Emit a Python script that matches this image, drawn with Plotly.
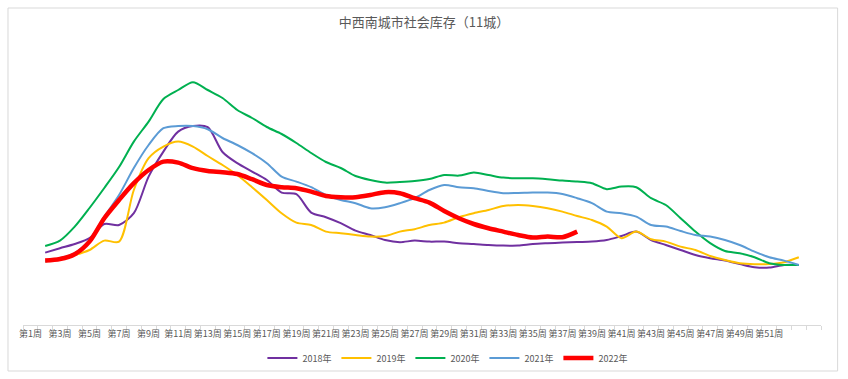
import plotly.graph_objects as go

weeks = list(range(2, 54))
week_labels = [f"第{w}周" for w in range(1, 52, 2)]
label_pos = list(range(1, 52, 2))

s2018 = [36.2, 38.4, 40.5, 43.4, 50.5, 50.0, 55.9, 74.2, 86.7, 96.7, 99.5, 98.9, 86.5, 80.9, 76.7, 72.5,
         66.2, 65.4, 56.2, 53.9, 50.9, 47.2, 45.0, 42.5, 41.4, 42.2, 41.7, 41.7, 40.9, 40.5, 40.0, 39.7,
         39.7, 40.5, 40.9, 41.2, 41.5, 41.7, 42.5, 44.5, 46.7, 42.5, 40.0, 37.5, 35.0, 33.4, 32.2, 30.5,
         28.9, 28.7, 30.0, 30.0]
s2019 = [31.7, 33.4, 35.0, 37.5, 42.2, 41.7, 67.5, 83.4, 89.2, 91.7, 89.2, 84.5, 80.0, 75.0, 68.9, 62.5,
         55.9, 51.2, 50.0, 46.7, 45.9, 45.0, 44.2, 44.5, 46.7, 47.9, 50.0, 51.2, 53.9, 55.9, 57.5, 59.5,
         60.0, 59.5, 58.4, 56.7, 54.5, 52.5, 49.2, 43.4, 46.7, 42.9, 41.7, 39.2, 37.5, 34.5, 32.5, 30.9,
         30.4, 30.5, 31.4, 33.9]
s2020 = [39.5, 42.2, 49.2, 58.5, 68.5, 79.0, 91.7, 101.7, 113.0, 117.5, 121.4, 117.5, 113.5, 107.5, 103.5,
         99.0, 95.5, 91.0, 86.0, 81.5, 78.5, 74.5, 72.5, 71.2, 71.5, 72.0, 73.0, 75.0, 74.7, 76.2, 75.0,
         73.7, 73.4, 73.4, 72.9, 72.2, 71.7, 70.9, 67.9, 69.2, 68.9, 63.4, 60.0, 53.4, 46.7, 40.9, 37.0,
         35.9, 33.9, 30.9, 30.0, 30.0]
s2021 = [31.7, 33.4, 35.9, 42.5, 54.2, 65.0, 78.5, 90.0, 98.4, 99.5, 99.5, 97.9, 93.5, 90.0, 85.9, 80.9,
         74.2, 71.7, 68.9, 65.0, 62.5, 60.9, 58.4, 58.9, 60.9, 63.4, 67.5, 70.0, 68.9, 68.4, 67.0, 65.9,
         66.0, 66.2, 66.2, 65.5, 63.4, 60.9, 56.7, 55.9, 54.2, 50.0, 49.2, 47.0, 45.0, 44.2, 42.5, 40.0,
         36.7, 33.9, 32.2, 30.0]
s2022 = [32.2, 33.0, 35.4, 41.7, 53.4, 62.5, 70.9, 77.5, 81.7, 81.2, 78.4, 77.0, 76.4, 75.5, 72.9, 70.0,
         68.9, 68.4, 66.7, 64.5, 63.9, 63.9, 65.0, 66.4, 65.9, 63.4, 61.2, 57.0, 53.4, 50.5, 48.4, 46.7,
         45.0, 43.7, 44.2, 43.9, 46.7]

series = [
    ("2018年", s2018, "#7030A0", 2),
    ("2019年", s2019, "#FFC000", 2),
    ("2020年", s2020, "#00B050", 2),
    ("2021年", s2021, "#5B9BD5", 2),
    ("2022年", s2022, "#FF0000", 4.5),
]

fig = go.Figure()
for name, vals, color, width in series:
    fig.add_trace(go.Scatter(
        x=weeks[:len(vals)], y=vals, name=name, mode="lines",
        line=dict(color=color, width=width, shape="spline", smoothing=0.8),
    ))

font_family = "Noto Sans CJK SC, Noto Sans, sans-serif"
fig.update_layout(
    width=848, height=379,
    margin=dict(l=23, r=27, t=40, b=54, autoexpand=False),
    paper_bgcolor="white", plot_bgcolor="white",
    font=dict(family=font_family, color="#595959", size=9),
    title=dict(text="中西南城市社会库存（11城）", x=0.5, xanchor="center",
               y=1 - 22 / 379, yanchor="middle",
               font=dict(size=13, color="#595959", family=font_family)),
    showlegend=True,
    legend=dict(orientation="h", x=0.3, xanchor="left", yref="container",
                y=1 - 358 / 379, yanchor="middle",
                font=dict(size=9, color="#595959"), entrywidth=29, bgcolor="rgba(0,0,0,0)"),
    xaxis=dict(
        range=[0.5, 54.5], tickmode="array", tickvals=label_pos, ticktext=week_labels,
        ticks="", showgrid=False, zeroline=False, automargin=False,
        showline=True, linecolor="#D9D9D9", linewidth=1,
        tickfont=dict(size=9, color="#595959"), tickangle=0,
        minor=dict(tickmode="array", tickvals=[w + 0.5 for w in range(0, 55)],
                   ticks="outside", ticklen=4, tickcolor="#D9D9D9", tickwidth=1, showgrid=False),
    ),
    yaxis=dict(range=[0, 142.5], visible=False, showgrid=False, zeroline=False, automargin=False),
    shapes=[dict(type="rect", xref="paper", yref="paper",
                 x0=(8 - 23) / 797.4, x1=(837 - 23) / 797.4,
                 y0=(325 - 371) / 285, y1=(325 - 8) / 285,
                 line=dict(color="#D9D9D9", width=1), fillcolor="rgba(0,0,0,0)", layer="below")],
)

fig.write_html("out.html", config={"displayModeBar": False},
               post_script="document.body.style.margin='0';document.body.style.overflow='hidden';")
